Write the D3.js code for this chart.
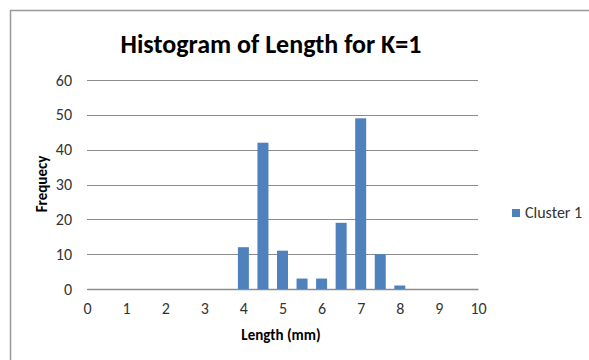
<!DOCTYPE html>
<html>
<head>
<meta charset="utf-8">
<script src="https://cdn.jsdelivr.net/npm/d3@7"></script>
<style>
  body { margin: 0; background: #fff; }
  svg { font-family: Calibri, Carlito, 'Open Sans', sans-serif; }
</style>
</head>
<body>
<svg id="chart" width="589" height="360"></svg>
<script>
'use strict'

// histogram bins (mm) and counts
const lengths = [4, 4.5, 5, 5.5, 6, 6.5, 7, 7.5, 8]
const counts = [12, 42, 11, 3, 3, 19, 49, 10, 1]
const xTicks = [0, 1, 2, 3, 4, 5, 6, 7, 8, 9, 10]
const yTicks = [0, 10, 20, 30, 40, 50, 60]
const seriesName = 'Cluster 1'

const svg = d3.select('#chart')
const margin = { top: 80, right: 111, bottom: 71, left: 87 }
const width = 589 - margin.left - margin.right
const height = 360 - margin.top - margin.bottom

// outer chart frame (only top/left are visible in the picture)
svg.append('rect')
    .attr('x', 10.5).attr('y', 10.5)
    .attr('width', 640).attr('height', 400)
    .attr('fill', 'none').attr('stroke', '#999').attr('stroke-width', 1.5)

svg.append('text')
    .attr('x', 271).attr('y', 53)
    .attr('text-anchor', 'middle')
    .attr('font-size', '26px').attr('font-weight', 'bold')
    .attr('fill', '#000')
    .text('Histogram of Length for K=1')

let g = svg.append('g').attr('transform', `translate(${margin.left}, ${margin.top})`)

let x = d3.scaleLinear().domain([0, 10]).range([0, width])
let y = d3.scaleLinear().domain([0, 60]).range([height, 0])

// grid
g.append('g')
    .selectAll('line')
    .data(yTicks)
    .enter()
    .append('line')
    .attr('x1', 0).attr('x2', width)
    .attr('y1', d => Math.round(y(d)) + 0.5).attr('y2', d => Math.round(y(d)) + 0.5)
    .attr('stroke', '#8c8c8c').attr('stroke-width', 1.2)

// y axis labels
g.append('g')
    .call(d3.axisLeft(y).tickValues(yTicks).tickSize(0).tickPadding(15))
    .call(a => a.select('.domain').remove())
    .attr('font-family', null).attr('font-size', null)
    .selectAll('text')
    .attr('font-size', '16px').attr('fill', '#333')

// x axis labels
g.append('g')
    .attr('transform', `translate(0, ${height})`)
    .call(d3.axisBottom(x).tickValues(xTicks).tickSize(0).tickPadding(14))
    .call(a => a.select('.domain').attr('stroke', '#8c8c8c').attr('stroke-width', 1.5))
    .attr('font-family', null).attr('font-size', null)
    .selectAll('text')
    .attr('font-size', '16px').attr('fill', '#333')

const barW = 11
g.append('g')
    .selectAll('rect')
    .data(lengths.map((l, i) => ({ l: l, c: counts[i] })))
    .enter()
    .append('rect')
    .attr('x', d => x(d.l) - barW / 2)
    .attr('y', d => y(d.c))
    .attr('width', barW)
    .attr('height', d => height - y(d.c))
    .attr('fill', '#4f81bd')

// axis titles
svg.append('text')
    .attr('transform', 'translate(47, 184) rotate(-90)')
    .attr('text-anchor', 'middle')
    .attr('font-size', '15px').attr('font-weight', 'bold')
    .text('Frequecy')

svg.append('text')
    .attr('x', 281).attr('y', 340)
    .attr('text-anchor', 'middle')
    .attr('font-size', '15px').attr('font-weight', 'bold')
    .text('Length (mm)')

// legend
let legend = svg.append('g').attr('transform', 'translate(512, 209)')
legend.append('rect').attr('width', 8).attr('height', 8).attr('fill', '#4f81bd')
legend.append('text')
    .attr('x', 13).attr('y', 9)
    .attr('font-size', '16px').attr('fill', '#333')
    .text(seriesName)
</script>
</body>
</html>
